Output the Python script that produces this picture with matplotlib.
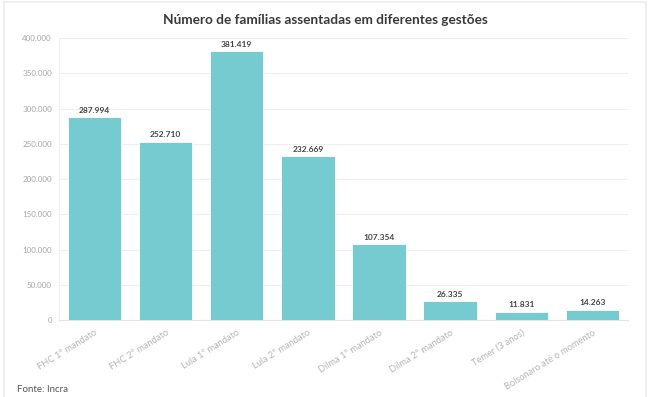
import matplotlib.pyplot as plt
from matplotlib.ticker import FuncFormatter
from matplotlib.patches import Rectangle

# dados do gráfico
gestoes = ['FHC 1º mandato', 'FHC 2º mandato', 'Lula 1º mandato', 'Lula 2º mandato',
           'Dilma 1º mandato', 'Dilma 2º mandato', 'Temer (3 anos)', 'Bolsonaro até o momento']
familias = [287994, 252710, 381419, 232669, 107354, 26335, 11831, 14263]
yticks = [0, 50000, 100000, 150000, 200000, 250000, 300000, 350000, 400000]

plt.rcParams['font.family'] = ['Lato', 'DejaVu Sans']

def fmt(v):
    return f'{int(v):,}'.replace(',', '.')

fig = plt.figure(figsize=(6.5, 3.97), dpi=100)
# moldura cinza clara
fig.patches.append(Rectangle((0.006, -0.01), 0.988, 1.005, transform=fig.transFigure,
                             fill=False, edgecolor='#ececec', linewidth=1.2))

ax = fig.add_axes([0.0906, 0.194, 0.8754, 0.71])
x = range(len(gestoes))
bars = ax.bar(x, familias, width=0.75, color='#76cbd1', edgecolor='white', linewidth=0.6, zorder=3)

for b, v in zip(bars, familias):
    ax.text(b.get_x() + b.get_width() / 2, v + 5000, fmt(v), ha='center', va='bottom',
            fontsize=6, fontweight='bold', color='#444444')

ax.set_xlim(-0.5, len(gestoes) - 0.5)
ax.set_ylim(0, 400000)
ax.set_yticks(yticks)
ax.yaxis.set_major_formatter(FuncFormatter(lambda v, p: fmt(v)))
ax.set_xticks(list(x))
ax.set_xticklabels(gestoes, rotation=32, ha='right', rotation_mode='anchor')
ax.tick_params(axis='y', labelsize=5.8, colors='#a5a5a5', length=0, pad=5)
ax.tick_params(axis='x', labelsize=6.7, colors='#b5b5b5', length=0, pad=6)
ax.grid(axis='y', color='#eeeeee', linewidth=0.8, zorder=0)
for s in ['top', 'right']:
    ax.spines[s].set_visible(False)
ax.spines['left'].set_color('#eeeeee')
ax.spines['bottom'].set_color('#e3e3e3')

fig.text(0.5, 0.95, 'Número de famílias assentadas em diferentes gestões', ha='center', va='center',
         fontsize=9.8, fontweight='bold', color='#3a3a3a')
fig.text(0.026, 0.018, 'Fonte: Incra', ha='left', va='center', fontsize=7, color='#555555')

fig.savefig('out.png', dpi=100)
